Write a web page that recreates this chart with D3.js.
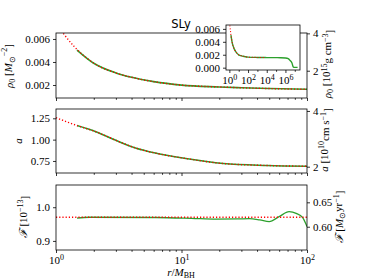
<!DOCTYPE html>
<meta charset="utf-8">
<style>
body { margin: 0; background: #fff; }
text { font-family: "Liberation Serif", serif; font-size: 11px; fill: #000; }
.tick line { stroke: #000; stroke-width: 0.8px; }
.frame { fill: none; stroke: #000; stroke-width: 0.8px; }
</style>
<body></body>
<script src="https://d3js.org/d3.v7.min.js"></script>
<script>

// analytic (red dotted) density, r in M_BH
var rAn   = [1, 1.16, 1.4, 2, 3, 4, 6, 10, 20, 30, 50, 100, 1e3, 6.3e3];
var rhoAn = [0.0074, 0.0064, 0.00533, 0.0039, 0.00305, 0.00267, 0.00229, 0.00199, 0.00183, 0.00176, 0.00169, 0.00163, 0.00158, 0.00157];

// simulation (green) density, out to the outer boundary
var rSim   = [1.47, 2, 3, 4, 6, 10, 20, 30, 50, 100, 1e3, 1e4, 1e5, 3e5, 1e6, 2e6, 3.2e6, 5e6, 7e6, 1e7, 2e7];
var rhoSim = [0.00504, 0.00389, 0.00305, 0.00267, 0.00229, 0.00199, 0.00183, 0.00176, 0.00169, 0.00163, 0.00158, 0.00156, 0.00155, 0.00154, 0.0015, 0.0014, 0.0011, 0.00073, 0.0001, 0.00005, 0.00005];

// sound speed
var rA    = [1, 1.45, 2.1, 3, 4.3, 6.3, 10.5, 21.5, 48, 100];
var aAn   = [1.257, 1.168, 1.09, 0.992, 0.902, 0.84, 0.782, 0.72, 0.697, 0.688];
var rASim = [1.47, 2.1, 3, 4.3, 6.3, 10.5, 21.5, 48, 100];
var aSim  = [1.165, 1.09, 0.992, 0.902, 0.84, 0.782, 0.72, 0.697, 0.688];

// accretion rate
var rFAn  = [1, 100];
var fAn   = [0.9703, 0.9703];
var rFSim = [1.47, 1.84, 6.26, 12, 18.9, 28, 34.7, 42, 50, 60, 72, 82, 92.4, 100];
var fSim  = [0.9674, 0.9703, 0.9695, 0.967, 0.9647, 0.9652, 0.9662, 0.9625, 0.9573, 0.9721, 0.9869, 0.982, 0.9691, 0.9424];

var xMajor = [1, 10, 100];
var xMinor = [2, 3, 4, 5, 6, 7, 8, 9, 20, 30, 40, 50, 60, 70, 80, 90];
var y1Ticks = [0.002, 0.004, 0.006], y1rTicks = [2, 4];
var y2Ticks = [0.75, 1.00, 1.25],    y2rTicks = [2, 4];
var y3Ticks = [0.9, 1.0],            y3rTicks = [0.60, 0.65];
var xiMajor = [1, 1e2, 1e4, 1e6], xiMinor = [10, 1e3, 1e5, 1e7];
var yiTicks = [0, 0.002, 0.004, 0.006];

var width = 374, height = 280;
var left = 56, right = 307;
var p1 = [33, 98], p2 = [109, 173], p3 = [185, 250];
var ins = {l: 226, r: 300, t: 25, b: 70};

var svg = d3.select("body").append("svg")
    .attr("width", width)
    .attr("height", height);

var x = d3.scaleLog().domain([1, 100]).range([left, right]);
var y1 = d3.scaleLinear().domain([0.00087, 0.00652]).range([p1[1], p1[0]]);
var y1r = d3.scaleLinear().domain([0.54, 4.02]).range([p1[1], p1[0]]);
var y2 = d3.scaleLinear().domain([0.609, 1.359]).range([p2[1], p2[0]]);
var y2r = d3.scaleLinear().domain([1.774, 4.07]).range([p2[1], p2[0]]);
var y3 = d3.scaleLinear().domain([0.873, 1.066]).range([p3[1], p3[0]]);
var y3r = d3.scaleLinear().domain([0.5523, 0.6855]).range([p3[1], p3[0]]);
var xi = d3.scaleLog().domain([Math.pow(10, -0.36), Math.pow(10, 7.56)]).range([ins.l, ins.r]);
var yi = d3.scaleLinear().domain([-0.00036, 0.0066]).range([ins.b, ins.t]);

var green = "#2ca02c", red = "#ff0000";

function zip(a, b) { return a.map(function(v, i) { return [v, b[i]]; }); }

function clip(id, x0, y0, x1, y1) {
  svg.append("clipPath").attr("id", id)
    .append("rect").attr("x", x0).attr("y", y0).attr("width", x1 - x0).attr("height", y1 - y0);
}

function drawLine(xs, ys, data, clipId, color, w, dash) {
  var line = d3.line().x(function(d) { return xs(d[0]); }).y(function(d) { return ys(d[1]); })
      .curve(d3.curveMonotoneX);
  svg.append("path").datum(data)
    .attr("clip-path", "url(#" + clipId + ")")
    .attr("fill", "none").attr("stroke", color).attr("stroke-width", w)
    .attr("stroke-dasharray", dash || null)
    .attr("d", line);
}

function supTen(sel) {
  sel.selectAll(".tick text").each(function(d) {
    var t = d3.select(this);
    t.text("");
    t.append("tspan").text("10");
    t.append("tspan").attr("dy", "-0.45em").style("font-size", "8px").text(Math.round(Math.log10(d)));
  });
}

function xAxes(yPos, labels, xs, major, minor) {
  var g = svg.append("g").attr("transform", "translate(0," + yPos + ")")
    .call(d3.axisBottom(xs).tickValues(major).tickSize(3).tickPadding(3).tickFormat(labels ? null : ""));
  g.select(".domain").remove();
  if (labels) supTen(g);
  var gm = svg.append("g").attr("transform", "translate(0," + yPos + ")")
    .call(d3.axisBottom(xs).tickValues(minor).tickSize(1.8).tickFormat(""));
  gm.select(".domain").remove();
}

function yAxis(xPos, ys, ticks, fmt, side) {
  var ax = side == "right" ? d3.axisRight(ys) : d3.axisLeft(ys);
  var g = svg.append("g").attr("transform", "translate(" + xPos + ",0)")
    .call(ax.tickValues(ticks).tickSize(3).tickPadding(3).tickFormat(d3.format(fmt)));
  g.select(".domain").remove();
}

function vLabel(xPos, yPos, parts) {
  var t = svg.append("text")
    .attr("transform", "translate(" + xPos + "," + yPos + ") rotate(-90)")
    .attr("text-anchor", "middle");
  parts.forEach(function(p) {
    var s = t.append("tspan").text(p[0]);
    if (p[1] == "i") s.style("font-style", "italic");
    if (p[1] == "sub") s.attr("dy", "0.3em").style("font-size", "8px");
    if (p[1] == "sup") s.attr("dy", "-0.45em").style("font-size", "8px");
    if (p[2]) s.attr("dy", p[2]);
  });
}

// panel clips
[p1, p2, p3].forEach(function(p, i) {
  clip("c" + i, left, p[0], right, p[1]);
});

// panel 1 : density
drawLine(x, y1, zip(rSim, rhoSim), "c0", green, 1.6);
drawLine(x, y1, zip(rAn, rhoAn), "c0", red, 1.4, "1.2,2");
// panel 2 : sound speed
drawLine(x, y2, zip(rASim, aSim), "c1", green, 1.6);
drawLine(x, y2, zip(rA, aAn), "c1", red, 1.4, "1.2,2");
// panel 3 : accretion rate
drawLine(x, y3, zip(rFSim, fSim), "c2", green, 1.3);
drawLine(x, y3, zip(rFAn, fAn), "c2", red, 1.4, "1.2,2");

[p1, p2, p3].forEach(function(p) {
  svg.append("rect").attr("class", "frame")
    .attr("x", left).attr("y", p[0]).attr("width", right - left).attr("height", p[1] - p[0]);
});

xAxes(p1[1], false, x, xMajor, xMinor);
xAxes(p2[1], false, x, xMajor, xMinor);
xAxes(p3[1], true, x, xMajor, xMinor);

yAxis(left, y1, y1Ticks, ".3f");
yAxis(right, y1r, y1rTicks, "d", "right");
yAxis(left, y2, y2Ticks, ".2f");
yAxis(right, y2r, y2rTicks, "d", "right");
yAxis(left, y3, y3Ticks, ".1f");
yAxis(right, y3r, y3rTicks, ".2f", "right");

// axis labels
vLabel(13, 66, [["ρ", "i"], ["0", "sub"], [" [", null, "-0.3em"], ["M", "i"], ["⊙", "sub"], ["−2", "sup", "-0.9em"], ["]", null, "0.45em"]]);
vLabel(22, 141, [["a", "i"]]);
vLabel(27, 217, [["ℱ", "i"], [" [10", null], ["−13", "sup"], ["]", null, "0.45em"]]);
vLabel(331, 64, [["ρ", "i"], ["0", "sub"], [" [10", null, "-0.3em"], ["15", "sup"], ["g cm", null, "0.45em"], ["−3", "sup"], ["]", null, "0.45em"]]);
vLabel(328, 140, [["a", "i"], [" [10", null], ["10", "sup"], ["cm s", null, "0.45em"], ["−1", "sup"], ["]", null, "0.45em"]]);
vLabel(343, 217, [["ℱ", "i"], [" [", null], ["M", "i"], ["⊙", "sub"], ["yr", null, "-0.3em"], ["−1", "sup"], ["]", null, "0.45em"]]);

var xl = svg.append("text").attr("x", 181).attr("y", 276).attr("text-anchor", "middle");
xl.append("tspan").style("font-style", "italic").text("r");
xl.append("tspan").text("/");
xl.append("tspan").style("font-style", "italic").text("M");
xl.append("tspan").attr("dy", "0.25em").style("font-size", "8px").text("BH");

svg.append("text").attr("x", 181).attr("y", 28).attr("text-anchor", "middle")
  .style("font-family", "'DejaVu Sans', sans-serif").style("font-size", "11.5px").text("SLy");

// inset : full radial domain
svg.append("rect").attr("x", ins.l).attr("y", ins.t).attr("width", ins.r - ins.l).attr("height", ins.b - ins.t)
  .attr("fill", "#fff");
clip("ci", ins.l, ins.t, ins.r, ins.b);
drawLine(xi, yi, zip(rSim, rhoSim), "ci", green, 1.4);
drawLine(xi, yi, zip(rAn, rhoAn), "ci", red, 1.1, "1,1.8");
svg.append("rect").attr("class", "frame")
  .attr("x", ins.l).attr("y", ins.t).attr("width", ins.r - ins.l).attr("height", ins.b - ins.t);
xAxes(ins.b, true, xi, xiMajor, xiMinor);
yAxis(ins.l, yi, yiTicks, ".3f");

</script>
